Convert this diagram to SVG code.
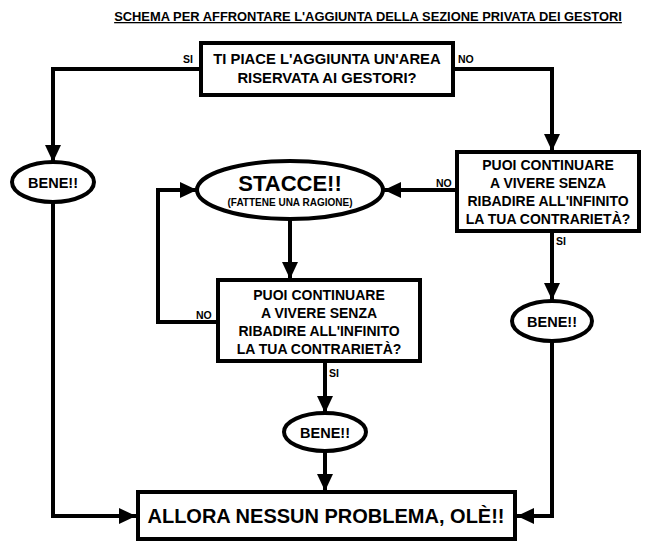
<svg xmlns="http://www.w3.org/2000/svg" width="650" height="550" viewBox="0 0 650 550">
<style>
.t{font-family:"Liberation Sans",Arial,sans-serif;font-weight:bold;fill:#000;text-anchor:middle}
.box{fill:#fff;stroke:#000;stroke-width:4}
.ln{fill:none;stroke:#000;stroke-width:4}
.lbl{font-family:"Liberation Sans",Arial,sans-serif;font-weight:bold;font-size:10.5px;fill:#000}
</style>
<defs>
<marker id="ah" markerUnits="userSpaceOnUse" markerWidth="18" markerHeight="16" refX="17" refY="8" orient="auto">
<path d="M0,0 L17,8 L0,16 z" fill="#000"/>
</marker>
</defs>
<rect width="650" height="550" fill="#fff"/>
<text class="t" x="368" y="21" font-size="12.9" text-decoration="underline">SCHEMA PER AFFRONTARE L'AGGIUNTA DELLA SEZIONE PRIVATA DEI GESTORI</text>
<g id="connectors">
<polyline class="ln" points="200,69 53,69 53,162" marker-end="url(#ah)"/>
<polyline class="ln" points="454,69 552,69 552,151" marker-end="url(#ah)"/>
<polyline class="ln" points="53,202 53,516 136,516" marker-end="url(#ah)"/>
<line class="ln" x1="456" y1="190" x2="384" y2="190" marker-end="url(#ah)"/>
<line class="ln" x1="552" y1="232" x2="552" y2="300" marker-end="url(#ah)"/>
<polyline class="ln" points="552,342 552,516 517,516" marker-end="url(#ah)"/>
<line class="ln" x1="290" y1="220" x2="290" y2="279" marker-end="url(#ah)"/>
<polyline class="ln" points="217,322 158,322 158,190 197,190" marker-end="url(#ah)"/>
<line class="ln" x1="325" y1="362" x2="325" y2="413" marker-end="url(#ah)"/>
<line class="ln" x1="325" y1="451" x2="325" y2="491" marker-end="url(#ah)"/>
<text class="lbl" x="183" y="63">SI</text>
<text class="lbl" x="458" y="63">NO</text>
<text class="lbl" x="436" y="187">NO</text>
<text class="lbl" x="556" y="245">SI</text>
<text class="lbl" x="196" y="319">NO</text>
<text class="lbl" x="329" y="377">SI</text>
</g>
<g id="q1">
<rect class="box" x="201" y="43" width="252" height="52"/>
<text class="t" x="327" y="64" font-size="14.8">TI PIACE L'AGGIUNTA UN'AREA</text>
<text class="t" x="327" y="83" font-size="14.8">RISERVATA AI GESTORI?</text>
</g>
<g id="bene1">
<ellipse class="box" cx="53" cy="182" rx="41" ry="20"/>
<text class="t" x="53" y="188" font-size="14.5">BENE!!</text>
</g>
<g id="q2">
<rect class="box" x="457" y="152" width="182" height="79"/>
<text class="t" x="548" y="170" font-size="14">PUOI CONTINUARE</text>
<text class="t" x="548" y="188" font-size="14">A VIVERE SENZA</text>
<text class="t" x="548" y="206" font-size="14">RIBADIRE ALL'INFINITO</text>
<text class="t" x="548" y="224" font-size="14">LA TUA CONTRARIETÀ?</text>
</g>
<g id="stacce">
<ellipse class="box" cx="290" cy="190" rx="93" ry="29"/>
<text class="t" x="290" y="191" font-size="22">STACCE!!</text>
<text class="t" x="290" y="206" font-size="10">(FATTENE UNA RAGIONE)</text>
</g>
<g id="q3">
<rect class="box" x="218" y="280" width="202" height="81"/>
<text class="t" x="319" y="300" font-size="14">PUOI CONTINUARE</text>
<text class="t" x="319" y="318" font-size="14">A VIVERE SENZA</text>
<text class="t" x="319" y="336" font-size="14">RIBADIRE ALL'INFINITO</text>
<text class="t" x="319" y="354" font-size="14">LA TUA CONTRARIETÀ?</text>
</g>
<g id="bene2">
<ellipse class="box" cx="552" cy="321" rx="40" ry="20"/>
<text class="t" x="552" y="327" font-size="14.5">BENE!!</text>
</g>
<g id="bene3">
<ellipse class="box" cx="325" cy="432" rx="41" ry="19"/>
<text class="t" x="325" y="438" font-size="14.5">BENE!!</text>
</g>
<g id="final">
<rect class="box" x="138" y="492" width="377" height="47"/>
<text class="t" x="326" y="523" font-size="20">ALLORA NESSUN PROBLEMA, OLÈ!!</text>
</g>
</svg>
